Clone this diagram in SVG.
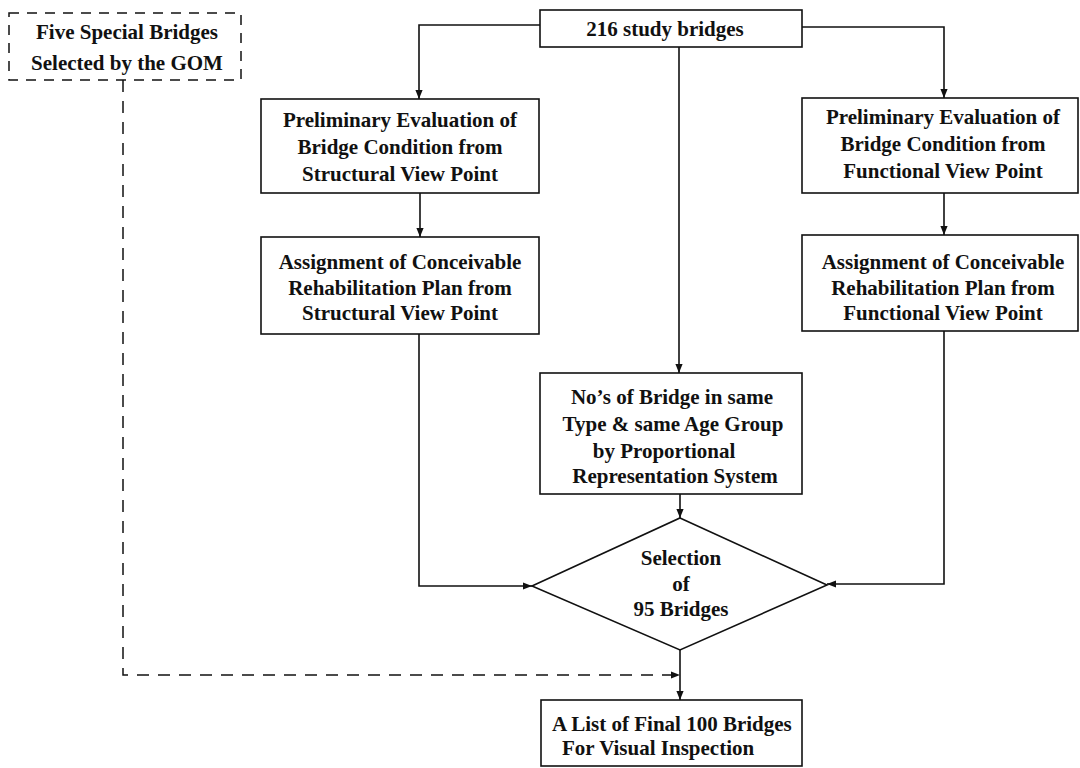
<svg xmlns="http://www.w3.org/2000/svg" width="1080" height="768" viewBox="0 0 1080 768">
  <style>
    .box { fill: #ffffff; stroke: #111; stroke-width: 1.6; }
    .dbox { fill: none; stroke: #111; stroke-width: 1.5; stroke-dasharray: 10 8; }
    .t { font-family: "Liberation Serif", "Times New Roman", serif; font-size: 21px; font-weight: bold; fill: #111; text-anchor: middle; }
    .ts { font-family: "Liberation Serif", "Times New Roman", serif; font-size: 21px; font-weight: bold; fill: #111; text-anchor: start; }
    .c { fill: none; stroke: #111; stroke-width: 1.6; }
    .cd { fill: none; stroke: #111; stroke-width: 1.5; stroke-dasharray: 12 9; }
  </style>
  <defs>
    <marker id="ah" viewBox="0 0 10 10" refX="10" refY="5" markerWidth="9" markerHeight="9" markerUnits="userSpaceOnUse" orient="auto">
      <path d="M0,1 L10,5 L0,9 Z" fill="#111"/>
    </marker>
  </defs>
  <rect width="1080" height="768" fill="#ffffff"/>

  <g id="connectors">
    <polyline class="c" points="540,25 419,25 419,99" marker-end="url(#ah)"/>
    <polyline class="c" points="802,27 944,27 944,98" marker-end="url(#ah)"/>
    <line class="c" x1="679" y1="47" x2="679" y2="373" marker-end="url(#ah)"/>
    <line class="c" x1="420" y1="193" x2="420" y2="237" marker-end="url(#ah)"/>
    <line class="c" x1="944" y1="193" x2="944" y2="235" marker-end="url(#ah)"/>
    <polyline class="c" points="419,334 419,586 532,586" marker-end="url(#ah)"/>
    <polyline class="c" points="944,331 944,584 827,584" marker-end="url(#ah)"/>
    <line class="c" x1="680" y1="494" x2="680" y2="518" marker-end="url(#ah)"/>
    <line class="c" x1="680" y1="650" x2="680" y2="700" marker-end="url(#ah)"/>
    <polyline class="cd" points="123,80 123,675 680,675" marker-end="url(#ah)"/>
  </g>

  <g id="special">
    <rect class="dbox" x="9" y="13" width="232" height="67"/>
    <text class="t" x="127" y="39">Five Special Bridges</text>
    <text class="t" x="127" y="70">Selected by the GOM</text>
  </g>

  <g id="study">
    <rect class="box" x="540" y="10" width="262" height="37"/>
    <text class="t" x="665" y="36">216 study bridges</text>
  </g>

  <g id="prelim-structural">
    <rect class="box" x="261" y="99" width="278" height="94"/>
    <text class="t" x="400" y="127">Preliminary Evaluation of</text>
    <text class="t" x="400" y="154">Bridge Condition from</text>
    <text class="t" x="400" y="181">Structural View Point</text>
  </g>

  <g id="assign-structural">
    <rect class="box" x="261" y="237" width="278" height="97"/>
    <text class="t" x="400" y="269">Assignment of Conceivable</text>
    <text class="t" x="400" y="295">Rehabilitation Plan from</text>
    <text class="t" x="400" y="320">Structural View Point</text>
  </g>

  <g id="prelim-functional">
    <rect class="box" x="802" y="98" width="276" height="95"/>
    <text class="t" x="943" y="124">Preliminary Evaluation of</text>
    <text class="t" x="943" y="151">Bridge Condition from</text>
    <text class="t" x="943" y="178">Functional View Point</text>
  </g>

  <g id="assign-functional">
    <rect class="box" x="802" y="235" width="276" height="96"/>
    <text class="t" x="943" y="269">Assignment of Conceivable</text>
    <text class="t" x="943" y="295">Rehabilitation Plan from</text>
    <text class="t" x="943" y="320">Functional View Point</text>
  </g>

  <g id="proportional">
    <rect class="box" x="540" y="373" width="262" height="121"/>
    <text class="t" x="672" y="404">No’s of Bridge in same</text>
    <text class="t" x="673" y="431">Type &amp; same Age Group</text>
    <text class="t" x="664" y="458">by Proportional</text>
    <text class="t" x="675" y="483">Representation System</text>
  </g>

  <g id="selection">
    <polygon class="box" points="680,518 827,585 680,650 532,586"/>
    <text class="t" x="681" y="565">Selection</text>
    <text class="t" x="681" y="591">of</text>
    <text class="t" x="681" y="616">95 Bridges</text>
  </g>

  <g id="final">
    <rect class="box" x="541" y="700" width="261" height="66"/>
    <text class="ts" x="552" y="731">A List of Final 100 Bridges</text>
    <text class="ts" x="562" y="755">For Visual Inspection</text>
  </g>
</svg>
